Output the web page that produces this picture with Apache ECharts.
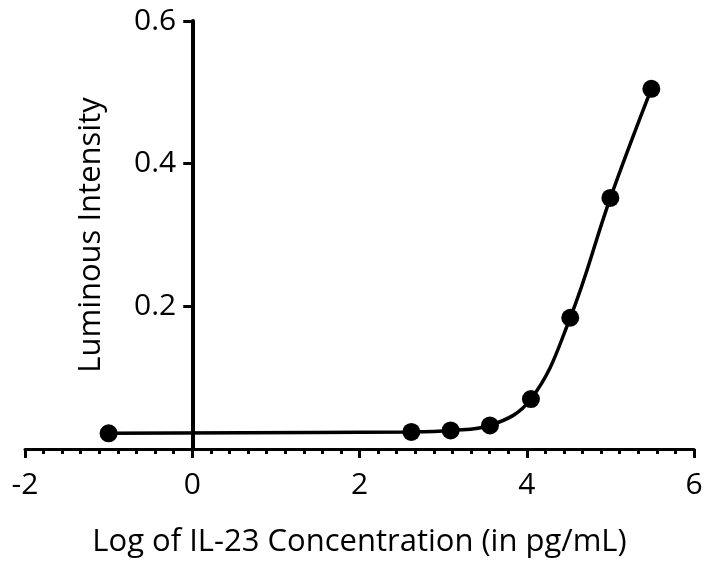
<!DOCTYPE html>
<html lang="en">
<head>
    <meta charset="UTF-8">
    <title>IL-23 standard curve</title>
    <style>
        *{
            margin: 0;
            padding: 0;
        }
        body{
            background: #fff;
        }
    </style>
</head>
<body>
<div id="main" style="width: 709px;height:561px;"></div>
<script src="https://cdn.jsdelivr.net/npm/echarts@6/dist/echarts.min.js"></script>
<script type="text/javascript">
    // log10 concentration (pg/mL) and measured luminous intensity
    var logConc = [-1, 2.62, 3.09, 3.56, 4.05, 4.52, 5.0, 5.49];
    var intensity = [0.022, 0.024, 0.026, 0.033, 0.070, 0.184, 0.352, 0.505];
    var xTicks = [-2, 0, 2, 4, 6];
    var yTicks = [0.2, 0.4, 0.6];

    var points = [];
    for (var i = 0; i < logConc.length; i++) {
        points.push([logConc[i], intensity[i]]);
    }

    var font = '"Open Sans", "Liberation Sans", sans-serif';
    var gridLeft = 25, gridRight = 15;
    // shift the y axis so it sits at x = 0
    var xMin = xTicks[0], xMax = xTicks[xTicks.length - 1];
    var plotW = 709 - gridLeft - gridRight;
    var yAxisShift = (0 - xMin) / (xMax - xMin) * plotW;

    var myChart = echarts.init(document.getElementById('main'));

    myChart.setOption({
        animation: false,
        grid: {
            left: gridLeft,
            right: gridRight,
            top: 21,
            bottom: 112,
            containLabel: false,
            outerBoundsMode: 'none'
        },
        xAxis: {
            type: 'value',
            min: xMin,
            max: xMax,
            interval: 2,
            name: 'Log of IL-23 Concentration (in pg/mL)',
            nameLocation: 'middle',
            nameGap: 78,
            nameTextStyle: {color: '#000', fontSize: 31, fontFamily: font},
            axisLine: {onZero: true, lineStyle: {color: '#000', width: 3}},
            axisTick: {show: true, inside: false, length: 9, lineStyle: {color: '#000', width: 3}},
            minorTick: {show: true, splitNumber: 9, length: 5, lineStyle: {color: '#000', width: 3}},
            axisLabel: {
                color: '#000',
                fontSize: 30,
                fontFamily: font,
                margin: 21
            },
            splitLine: {show: false}
        },
        yAxis: {
            type: 'value',
            position: 'left',
            offset: -yAxisShift,
            min: 0,
            max: yTicks[yTicks.length - 1],
            interval: 0.2,
            name: 'Luminous Intensity',
            nameLocation: 'middle',
            nameGap: 86,
            nameTextStyle: {color: '#000', fontSize: 31, fontFamily: font},
            axisLine: {show: true, onZero: false, lineStyle: {color: '#000', width: 4}},
            axisTick: {show: true, length: 9, lineStyle: {color: '#000', width: 3}},
            axisLabel: {
                color: '#000',
                fontSize: 30,
                fontFamily: font,
                margin: 16,
                formatter: function (v) {
                    return v === 0 ? '' : v.toFixed(1);
                }
            },
            splitLine: {show: false}
        },
        series: [
            {
                type: 'line',
                data: points,
                smooth: 0.4,
                symbol: 'circle',
                symbolSize: 18,
                itemStyle: {color: '#000'},
                lineStyle: {color: '#000', width: 3.5}
            }
        ]
    });
</script>
</body>
</html>
